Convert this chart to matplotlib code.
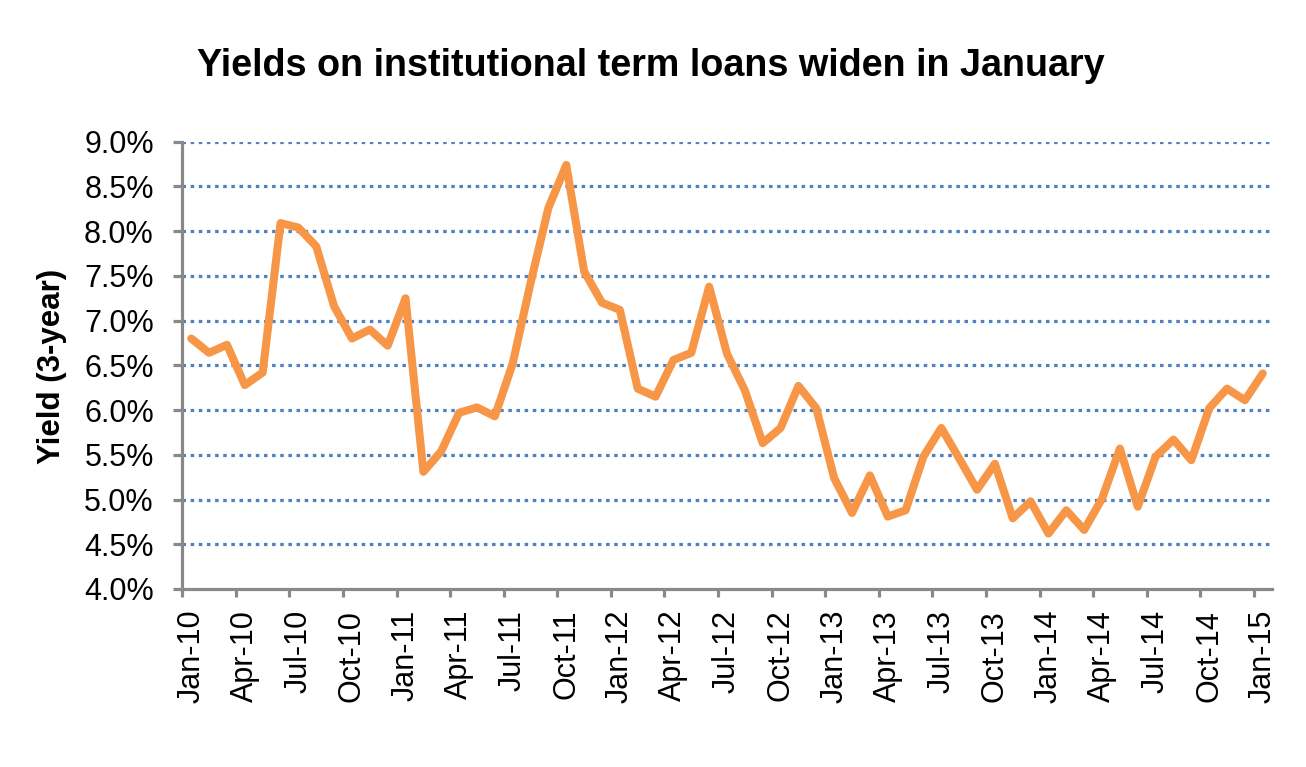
import numpy as np
import matplotlib
matplotlib.use("Agg")
import matplotlib.pyplot as plt
from matplotlib.ticker import FuncFormatter, FixedLocator

plt.rcParams['font.family'] = ['Liberation Sans', 'DejaVu Sans']

# monthly yields (%), Jan-10 .. Jan-15
yields = [6.80, 6.64, 6.73, 6.28, 6.42, 8.09, 8.04, 7.83, 7.16, 6.80, 6.90, 6.72,
          7.25, 5.31, 5.54, 5.97, 6.03, 5.93, 6.52, 7.42, 8.26, 8.74, 7.55, 7.20,
          7.12, 6.24, 6.15, 6.56, 6.64, 7.38, 6.63, 6.22, 5.63, 5.80, 6.27, 6.02,
          5.24, 4.85, 5.27, 4.81, 4.88, 5.48, 5.80, 5.46, 5.11, 5.40, 4.79, 4.98,
          4.62, 4.88, 4.66, 5.01, 5.57, 4.92, 5.48, 5.67, 5.44, 6.02, 6.24, 6.11,
          6.41]
tick_labels = ["Jan-10", "Apr-10", "Jul-10", "Oct-10",
               "Jan-11", "Apr-11", "Jul-11", "Oct-11",
               "Jan-12", "Apr-12", "Jul-12", "Oct-12",
               "Jan-13", "Apr-13", "Jul-13", "Oct-13",
               "Jan-14", "Apr-14", "Jul-14", "Oct-14",
               "Jan-15"]
y_ticks = [4.0, 4.5, 5.0, 5.5, 6.0, 6.5, 7.0, 7.5, 8.0, 8.5, 9.0]

title = "Yields on institutional term loans widen in January"
ylabel = "Yield (3-year)"

W, H = 1306, 767
fig = plt.figure(figsize=(W / 100, H / 100), dpi=100)
ax = fig.add_axes([182.3 / W, 1 - 589 / H, (1271.7 - 182.3) / W, (589 - 141.7) / H])

x = np.arange(len(yields))
ax.plot(x, yields, color='#F79646', lw=5.8, solid_joinstyle='round',
        solid_capstyle='round', zorder=3)

ax.set_xlim(-0.5, len(yields) - 0.5)
ax.set_ylim(4.0, 9.0)

# gridlines (skip the bottom one, that is the axis)
for v in y_ticks[1:]:
    ax.axhline(v, color='#4F81BD', lw=2.3, linestyle=(0, (1.1, 1.45)),
               dash_capstyle='butt', zorder=1)

ax.set_yticks(y_ticks)
ax.yaxis.set_major_formatter(FuncFormatter(lambda v, p: '{:.1f}%'.format(v)))

# ticks at category boundaries, labels at category centres
ax.xaxis.set_major_locator(FixedLocator(np.arange(0, 61, 3) - 0.5))
ax.set_xticklabels([])
ax.xaxis.set_minor_locator(FixedLocator(np.arange(0, 61, 3)))
ax.set_xticklabels(tick_labels, minor=True, rotation=90)

for s in ['top', 'right']:
    ax.spines[s].set_visible(False)
for s in ['left', 'bottom']:
    ax.spines[s].set_color('#898989')
    ax.spines[s].set_linewidth(2.3)

ax.tick_params(axis='y', which='major', direction='out', length=6.5, width=2.3,
               color='#898989', labelsize=22, pad=14)
ax.tick_params(axis='x', which='major', direction='out', length=5.5, width=2.3,
               color='#898989')
ax.tick_params(axis='x', which='minor', length=0, labelsize=22, pad=15)

fig.text(651 / W, 1 - 76 / H, title, ha='center', va='baseline',
         fontsize=27.2, fontweight='bold')
fig.text(52 / W, 1 - 366 / H, ylabel, ha='center', va='center',
         rotation=90, fontsize=22.5, fontweight='bold')

fig.savefig('out.png', dpi=100)
